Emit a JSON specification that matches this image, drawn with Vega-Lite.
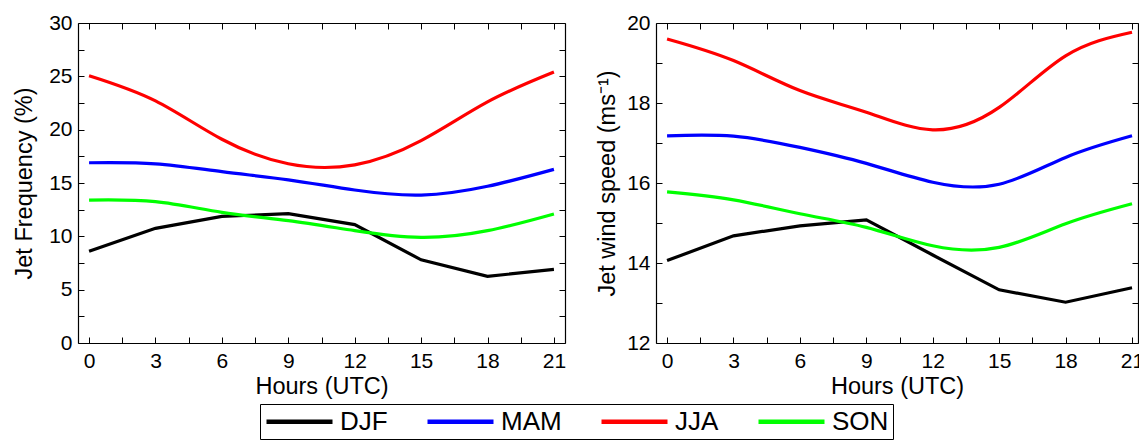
{
  "$schema": "https://vega.github.io/schema/vega-lite/v6.json",
  "padding": {"left": 12, "top": 12, "right": 0, "bottom": 0},
  "background": "white",
  "config": {
    "view": {"stroke": null},
    "font": "Liberation Sans",
    "axis": {
      "grid": false,
      "domainColor": "#000000",
      "domainWidth": 1.2,
      "tickColor": "#000000",
      "tickWidth": 1,
      "ticks": true,
      "labelColor": "#000000",
      "titleColor": "#000000",
      "labelFont": "Liberation Sans",
      "titleFont": "Liberation Sans",
      "labelFontSize": 21,
      "titleFontSize": 23.5,
      "titleFontWeight": "normal",
      "labelOverlap": false,
      "labelFlush": false
    },
    "legend": {
      "labelFont": "Liberation Sans",
      "labelFontSize": 26,
      "labelColor": "#000000"
    }
  },
  "datasets": {
    "rows": [
      {"panel": "freq", "season": "DJF", "hour": 0, "value": 8.6},
      {"panel": "freq", "season": "DJF", "hour": 3, "value": 10.75},
      {"panel": "freq", "season": "DJF", "hour": 6, "value": 11.87},
      {"panel": "freq", "season": "DJF", "hour": 9, "value": 12.12},
      {"panel": "freq", "season": "DJF", "hour": 12, "value": 11.1},
      {"panel": "freq", "season": "DJF", "hour": 15, "value": 7.8},
      {"panel": "freq", "season": "DJF", "hour": 18, "value": 6.25},
      {"panel": "freq", "season": "DJF", "hour": 21, "value": 6.9},
      {"panel": "freq", "season": "MAM", "hour": 0, "value": 16.9},
      {"panel": "freq", "season": "MAM", "hour": 3, "value": 16.8},
      {"panel": "freq", "season": "MAM", "hour": 6, "value": 16.06},
      {"panel": "freq", "season": "MAM", "hour": 9, "value": 15.3},
      {"panel": "freq", "season": "MAM", "hour": 12, "value": 14.34},
      {"panel": "freq", "season": "MAM", "hour": 15, "value": 13.87},
      {"panel": "freq", "season": "MAM", "hour": 18, "value": 14.69},
      {"panel": "freq", "season": "MAM", "hour": 21, "value": 16.28},
      {"panel": "freq", "season": "JJA", "hour": 0, "value": 25.06},
      {"panel": "freq", "season": "JJA", "hour": 3, "value": 22.7},
      {"panel": "freq", "season": "JJA", "hour": 6, "value": 19.1},
      {"panel": "freq", "season": "JJA", "hour": 9, "value": 16.8},
      {"panel": "freq", "season": "JJA", "hour": 12, "value": 16.7},
      {"panel": "freq", "season": "JJA", "hour": 15, "value": 18.97},
      {"panel": "freq", "season": "JJA", "hour": 18, "value": 22.6},
      {"panel": "freq", "season": "JJA", "hour": 21, "value": 25.4},
      {"panel": "freq", "season": "SON", "hour": 0, "value": 13.4},
      {"panel": "freq", "season": "SON", "hour": 3, "value": 13.25},
      {"panel": "freq", "season": "SON", "hour": 6, "value": 12.25},
      {"panel": "freq", "season": "SON", "hour": 9, "value": 11.47},
      {"panel": "freq", "season": "SON", "hour": 12, "value": 10.53},
      {"panel": "freq", "season": "SON", "hour": 15, "value": 9.9},
      {"panel": "freq", "season": "SON", "hour": 18, "value": 10.53},
      {"panel": "freq", "season": "SON", "hour": 21, "value": 12.1},
      {"panel": "speed", "season": "DJF", "hour": 0, "value": 14.06},
      {"panel": "speed", "season": "DJF", "hour": 3, "value": 14.68},
      {"panel": "speed", "season": "DJF", "hour": 6, "value": 14.93},
      {"panel": "speed", "season": "DJF", "hour": 9, "value": 15.08},
      {"panel": "speed", "season": "DJF", "hour": 12, "value": 14.2},
      {"panel": "speed", "season": "DJF", "hour": 15, "value": 13.33},
      {"panel": "speed", "season": "DJF", "hour": 18, "value": 13.02},
      {"panel": "speed", "season": "DJF", "hour": 21, "value": 13.38},
      {"panel": "speed", "season": "MAM", "hour": 0, "value": 17.18},
      {"panel": "speed", "season": "MAM", "hour": 3, "value": 17.17},
      {"panel": "speed", "season": "MAM", "hour": 6, "value": 16.89},
      {"panel": "speed", "season": "MAM", "hour": 9, "value": 16.49},
      {"panel": "speed", "season": "MAM", "hour": 12, "value": 16.02},
      {"panel": "speed", "season": "MAM", "hour": 15, "value": 15.97},
      {"panel": "speed", "season": "MAM", "hour": 18, "value": 16.64},
      {"panel": "speed", "season": "MAM", "hour": 21, "value": 17.18},
      {"panel": "speed", "season": "JJA", "hour": 0, "value": 19.6},
      {"panel": "speed", "season": "JJA", "hour": 3, "value": 19.06},
      {"panel": "speed", "season": "JJA", "hour": 6, "value": 18.31},
      {"panel": "speed", "season": "JJA", "hour": 9, "value": 17.77},
      {"panel": "speed", "season": "JJA", "hour": 12, "value": 17.33},
      {"panel": "speed", "season": "JJA", "hour": 15, "value": 17.89},
      {"panel": "speed", "season": "JJA", "hour": 18, "value": 19.18},
      {"panel": "speed", "season": "JJA", "hour": 21, "value": 19.77},
      {"panel": "speed", "season": "SON", "hour": 0, "value": 15.78},
      {"panel": "speed", "season": "SON", "hour": 3, "value": 15.58},
      {"panel": "speed", "season": "SON", "hour": 6, "value": 15.23},
      {"panel": "speed", "season": "SON", "hour": 9, "value": 14.89},
      {"panel": "speed", "season": "SON", "hour": 12, "value": 14.43},
      {"panel": "speed", "season": "SON", "hour": 15, "value": 14.39},
      {"panel": "speed", "season": "SON", "hour": 18, "value": 14.98},
      {"panel": "speed", "season": "SON", "hour": 21, "value": 15.48}
    ]
  },
  "data": {"name": "rows"},
  "spacing": 91,
  "bounds": "flush",
  "hconcat": [
    {
      "width": 487,
      "height": 320,
      "transform": [{"filter": "datum.panel === 'freq'"}],
      "layer": [
        {
          "transform": [{"filter": "datum.season === 'DJF'"}],
          "mark": {"type": "line", "strokeWidth": 3.2},
          "encoding": {
            "x": {
              "field": "hour", "type": "quantitative",
              "scale": {"domain": [-0.5, 21.5], "nice": false, "zero": false},
              "axis": {
                "orient": "bottom", "title": "Hours (UTC)",
                "values": [0, 1.5, 3, 4.5, 6, 7.5, 9, 10.5, 12, 13.5, 15, 16.5, 18, 19.5, 21],
                "labelExpr": "datum.value % 3 === 0 ? datum.label : ''",
                "tickSize": -6, "labelPadding": 13, "titlePadding": 3,
                "encode": {"ticks": {"update": {"y2": {"signal": "datum.value % 3 === 0 ? -6 : -3"}}}}
              }
            },
            "y": {
              "field": "value", "type": "quantitative",
              "scale": {"domain": [0, 30], "nice": false, "zero": false},
              "axis": {
                "orient": "left", "title": "Jet Frequency (%)",
                "values": [0, 2.5, 5, 7.5, 10, 12.5, 15, 17.5, 20, 22.5, 25, 27.5, 30],
                "labelExpr": "datum.value % 5 === 0 ? datum.label : ''",
                "tickSize": -6, "labelPadding": 12, "titlePadding": 12,
                "encode": {"ticks": {"update": {"x2": {"signal": "datum.value % 5 === 0 ? 6 : 3"}}}}
              }
            },
            "color": {
              "field": "season", "type": "nominal",
              "scale": {"domain": ["DJF", "MAM", "JJA", "SON"], "range": ["#000000", "#0000ff", "#ff0000", "#00ff00"]},
              "legend": {
                "title": null, "orient": "none", "direction": "horizontal",
                "legendX": 182, "legendY": 381,
                "strokeColor": "#000000", "padding": 4,
                "symbolType": "M-1,0H5", "symbolSize": 484, "symbolStrokeWidth": 4.5,
                "symbolFillColor": "transparent",
                "labelOffset": 49, "columnPadding": 30
              }
            }
          }
        },
        {
          "transform": [{"filter": "datum.season !== 'DJF'"}],
          "mark": {"type": "line", "strokeWidth": 3.2, "interpolate": "natural"},
          "encoding": {
            "x": {
              "field": "hour", "type": "quantitative",
              "axis": {
                "orient": "top", "title": null, "labels": false,
                "values": [0, 1.5, 3, 4.5, 6, 7.5, 9, 10.5, 12, 13.5, 15, 16.5, 18, 19.5, 21],
                "tickSize": -6,
                "encode": {"ticks": {"update": {"y2": {"signal": "datum.value % 3 === 0 ? 6 : 3"}}}}
              }
            },
            "y": {
              "field": "value", "type": "quantitative",
              "axis": {
                "orient": "right", "title": null, "labels": false,
                "values": [0, 2.5, 5, 7.5, 10, 12.5, 15, 17.5, 20, 22.5, 25, 27.5, 30],
                "tickSize": -6,
                "encode": {"ticks": {"update": {"x2": {"signal": "datum.value % 5 === 0 ? -6 : -3"}}}}
              }
            },
            "color": {"field": "season", "type": "nominal"}
          }
        }
      ],
      "resolve": {"axis": {"x": "independent", "y": "independent"}}
    },
    {
      "width": 482,
      "height": 320,
      "transform": [{"filter": "datum.panel === 'speed'"}],
      "layer": [
        {
          "transform": [{"filter": "datum.season === 'DJF'"}],
          "mark": {"type": "line", "strokeWidth": 3.2},
          "encoding": {
            "x": {
              "field": "hour", "type": "quantitative",
              "scale": {"domain": [-0.5, 21.27], "nice": false, "zero": false},
              "axis": {
                "orient": "bottom", "title": "Hours (UTC)",
                "values": [0, 1.5, 3, 4.5, 6, 7.5, 9, 10.5, 12, 13.5, 15, 16.5, 18, 19.5, 21],
                "labelExpr": "datum.value % 3 === 0 ? datum.label : ''",
                "tickSize": -6, "labelPadding": 13, "titlePadding": 3,
                "encode": {"ticks": {"update": {"y2": {"signal": "datum.value % 3 === 0 ? -6 : -3"}}}}
              }
            },
            "y": {
              "field": "value", "type": "quantitative",
              "scale": {"domain": [12, 20], "nice": false, "zero": false},
              "axis": {
                "orient": "left", "title": "Jet wind speed (ms⁻¹)",
                "values": [12, 13, 14, 15, 16, 17, 18, 19, 20],
                "labelExpr": "datum.value % 2 === 0 ? datum.label : ''",
                "tickSize": -6, "labelPadding": 12, "titlePadding": 7,
                "encode": {"ticks": {"update": {"x2": {"signal": "datum.value % 2 === 0 ? 6 : 3"}}}}
              }
            },
            "color": {"field": "season", "type": "nominal"}
          }
        },
        {
          "transform": [{"filter": "datum.season !== 'DJF'"}],
          "mark": {"type": "line", "strokeWidth": 3.2, "interpolate": "natural"},
          "encoding": {
            "x": {
              "field": "hour", "type": "quantitative",
              "axis": {
                "orient": "top", "title": null, "labels": false,
                "values": [0, 1.5, 3, 4.5, 6, 7.5, 9, 10.5, 12, 13.5, 15, 16.5, 18, 19.5, 21],
                "tickSize": -6,
                "encode": {"ticks": {"update": {"y2": {"signal": "datum.value % 3 === 0 ? 6 : 3"}}}}
              }
            },
            "y": {
              "field": "value", "type": "quantitative",
              "axis": {
                "orient": "right", "title": null, "labels": false,
                "values": [12, 13, 14, 15, 16, 17, 18, 19, 20],
                "tickSize": -6,
                "encode": {"ticks": {"update": {"x2": {"signal": "datum.value % 2 === 0 ? -6 : -3"}}}}
              }
            },
            "color": {"field": "season", "type": "nominal"}
          }
        }
      ],
      "resolve": {"axis": {"x": "independent", "y": "independent"}}
    }
  ]
}
